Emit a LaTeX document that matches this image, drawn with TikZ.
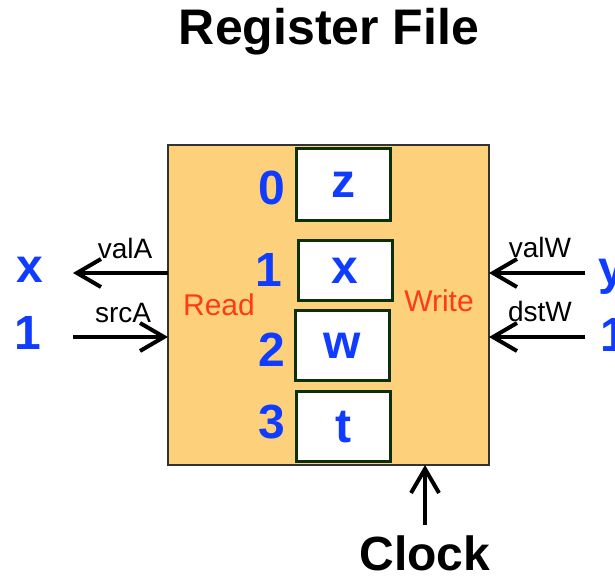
\documentclass[tikz,border=0pt]{standalone}
\usepackage{fontspec}
\setmainfont{Liberation Sans}
\usepackage{xcolor}
\usetikzlibrary{positioning,calc,arrows.meta}
\definecolor{rfOrange}{HTML}{FDD17B}
\definecolor{rfBlue}{HTML}{0F3CFF}
\definecolor{rfRed}{HTML}{FF3A14}
\definecolor{rfGreen}{HTML}{0B2E0B}

\begin{document}
\begin{tikzpicture}[x=0.5pt,y=-0.5pt,>={Straight Barb[length=12pt,width=14pt]},
  every node/.style={inner sep=0pt,outer sep=0pt},
  reg/.style={draw=rfGreen,line width=1.5pt,fill=white,minimum width=47pt,
    font=\fontsize{24}{28}\bfseries,text=rfBlue},
  idx/.style={anchor=base,font=\fontsize{24}{28}\bfseries,text=rfBlue},
  port/.style={anchor=base,font=\fontsize{14}{16}\selectfont},
  side/.style={anchor=base,font=\fontsize{15}{18}\selectfont,text=rfRed},
  sig/.style={line width=2pt}]
\useasboundingbox (0,0) rectangle (615,576);
\node[anchor=base,font=\fontsize{25}{30}\bfseries] (title) at (329,45) {Register File};
\node[draw=black!80,line width=0.75pt,fill=rfOrange,
  minimum width=160.5pt,minimum height=160pt] (rf) at (328.5,305) {};
% registers
\node[reg,minimum height=36pt] (r0) at (343,185) {z};
\node[reg,minimum height=30pt] (r1) at (345,271) {x};
\node[reg,minimum height=35pt] (r2) at (342.5,346) {w};
\node[reg,minimum height=35pt] (r3) at (343.5,427) {t};
\node[idx] (n0) at (272,205) {0};
\node[idx] (n1) at (269,287) {1};
\node[idx] (n2) at (272,367) {2};
\node[idx] (n3) at (272,438) {3};
\node[side] (read) at (219,316) {Read};
\node[side] (write) at (439,312) {Write};
% read port
\coordinate (valAend) at (73,273);
\coordinate (srcAbeg) at (73,337);
\draw[sig,->] (rf.west |- valAend) -- (valAend);
\draw[sig,->] (srcAbeg) -- (srcAbeg -| rf.west);
\node[port] (valA) at (125,259) {valA};
\node[port] (srcA) at (123,323) {srcA};
\node[idx] (outA) at (30,283) {x};
\node[idx] (inA) at (28,350) {1};
% write port
\coordinate (valWbeg) at (585,273);
\coordinate (dstWbeg) at (585,337);
\draw[sig,->] (valWbeg) -- (valWbeg -| rf.east);
\draw[sig,->] (dstWbeg) -- (dstWbeg -| rf.east);
\node[port] (valW) at (540,258) {valW};
\node[port] (dstW) at (540,322) {dstW};
\node[idx] (inW) at (612,285) {y};
\node[idx] (dstV) at (614,352) {1};
% clock
\node[anchor=base,font=\fontsize{24}{28}\bfseries] (clk) at (425,570) {Clock};
\draw[sig,->] ([yshift=5pt]clk.north) -- (clk.north |- rf.south);
\end{tikzpicture}
\end{document}
